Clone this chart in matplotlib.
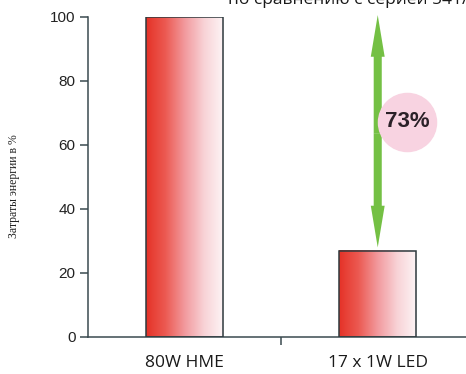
import matplotlib
matplotlib.use("Agg")
import matplotlib.pyplot as plt
import numpy as np
from matplotlib.colors import LinearSegmentedColormap

# данные
categories = ["80W HME", "17 x 1W LED"]
values = [100, 27]
saving_label = "73%"
y_ticks = [0, 20, 40, 60, 80, 100]
title_text = "по сравнению с серией 541/8"
ylabel_text = "Затраты энергии в %"

W, H = 466, 374
fig = plt.figure(figsize=(W / 100, H / 100), dpi=100)
ax = fig.add_axes([88 / W, 37 / H, (W - 88) / W, (337 - 17) / H])

bar_w = 0.40
cmap = LinearSegmentedColormap.from_list(
    "grad", ["#e53227", "#ec5a52", "#f29a9e", "#f8d3d7", "#fdf5f6"])
grad = np.linspace(0, 1, 256).reshape(1, -1)

x = np.arange(len(categories))
for xi, v in zip(x, values):
    ax.imshow(grad, cmap=cmap, aspect="auto", zorder=2,
              extent=(xi - bar_w / 2, xi + bar_w / 2, 0, v))
    ax.bar(xi, v, width=bar_w, facecolor="none", edgecolor="#2e3a3e",
           linewidth=1.1, zorder=3)

ax.set_xlim(-0.5, 1.457)
ax.set_ylim(0, 100)

# стрелка разницы: две половинки от середины
mid = (values[0] + values[1]) / 2
astyle = "simple,head_length=30,head_width=10,tail_width=5.8"
for end in (values[0] + 0.6, values[1] + 1.0):
    ax.annotate("", xy=(x[1], end), xytext=(x[1], mid),
                arrowprops=dict(arrowstyle=astyle, mutation_scale=1,
                                color="#74c044", lw=0, shrinkA=0, shrinkB=0),
                annotation_clip=False, zorder=4)

# кружок с процентом
cx, cy = x[1] + 0.152, 67.2
ax.scatter([cx], [cy], s=1750, color="#f8d3e1", zorder=5, clip_on=False)
ax.text(cx, cy, saving_label, ha="center", va="center", fontsize=16,
        fontweight="bold", color="#2b2128", family="Liberation Sans", zorder=6)

ax.set_yticks(y_ticks)
ax.set_yticklabels([str(t) for t in y_ticks], family="Liberation Sans",
                   fontsize=11, color="#222222")
ax.set_xticks([0.5])
ax.set_xticklabels([""])
ax.tick_params(axis="both", length=6, width=1.1, color="#3a4a50", direction="out")
ax.tick_params(axis="y", pad=3)

for cat, xi in zip(categories, x):
    ax.text(xi, -8.0, cat, ha="center", va="center", fontsize=12.5,
            family="Open Sans", color="#1a1a1a", clip_on=False)

for s in ["top", "right"]:
    ax.spines[s].set_visible(False)
for s in ["left", "bottom"]:
    ax.spines[s].set_color("#3a4a50")
    ax.spines[s].set_linewidth(1.1)

fig.text(14 / W, 1 - 186 / H, ylabel_text, rotation=90, ha="center",
         va="center", fontsize=8.5, family="Liberation Serif", color="#222222")
fig.text(228 / W, 1 - 4 / H, title_text, ha="left", va="baseline",
         fontsize=12.5, family="Open Sans", color="#1a1a1a")

fig.savefig("out.png", dpi=100)
